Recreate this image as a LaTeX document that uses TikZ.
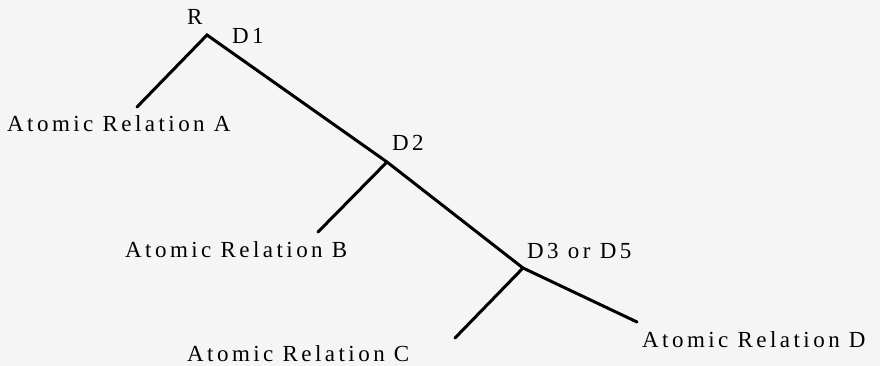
\documentclass[tikz,border=0pt]{standalone}
\usepackage{fontspec}
\setmainfont{Liberation Serif}[LetterSpace=15]
\definecolor{bg}{RGB}{245,245,245}
\begin{document}
\begin{tikzpicture}[x=1pt,y=-1pt,
  lbl/.style={anchor=base west,inner sep=0pt,font=\fontsize{23}{25}\selectfont},
  branch/.style={line width=3pt,line cap=round,line join=miter}]
\fill[bg] (0,0) rectangle (880,366);
\useasboundingbox (0,0) rectangle (880,366);
% junctions and ends
\coordinate (j0) at (207,35);
\coordinate (j1) at (387,162);
\coordinate (j2) at (523,268);
\coordinate (ea) at (137,107);
\coordinate (eb) at (318,232);
\coordinate (ec) at (455,338);
\coordinate (ed) at (637,322);
% labels
\node[lbl] (r) at (187,25) {R};
\node[lbl] (d1) at (232,44) {D1};
\node[lbl] (d2) at (392,151) {D2};
\node[lbl] (d3) at (527,258) {D3 or D5};
\node[lbl] (ta) at (7,132) {Atomic Relation A};
\node[lbl] (tb) at (125,257) {Atomic Relation B};
\node[lbl] (tc) at (187,361) {Atomic Relation C};
\node[lbl] (td) at (642,347) {Atomic Relation D};
% tree
\draw[branch] (ea) -- (j0) -- (j1) -- (j2) -- (ed);
\draw[branch] (j1) -- (eb);
\draw[branch] (j2) -- (ec);
\end{tikzpicture}
\end{document}
